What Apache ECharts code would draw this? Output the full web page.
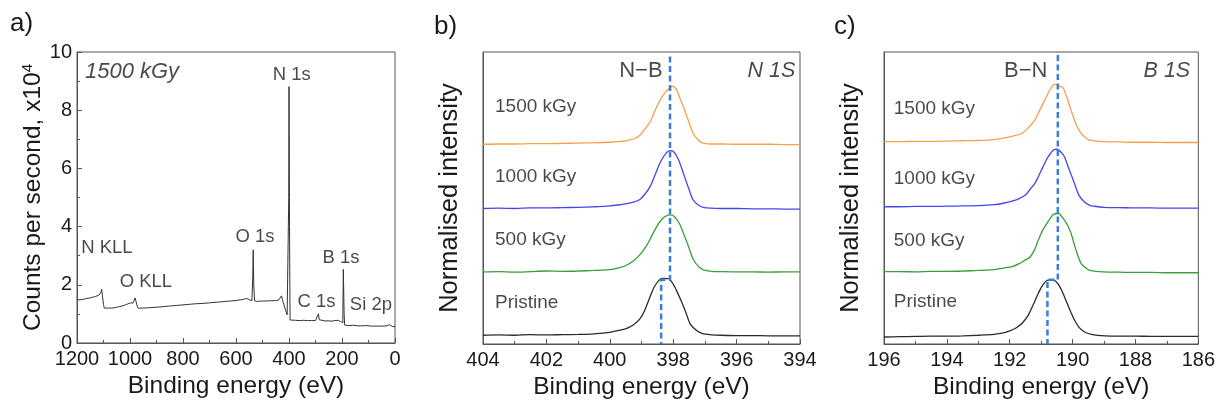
<!DOCTYPE html>
<html>
<head>
<meta charset="utf-8">
<script src="https://cdn.jsdelivr.net/npm/echarts@6/dist/echarts.min.js"></script>
<style>html,body{margin:0;padding:0;background:#fff;}#c{width:1218px;height:411px;}</style>
</head>
<body>
<div id="c"></div>
<script>
// ---------- DATA ----------
// Panel a: survey spectrum [binding energy eV, counts x1e4]
const surveyData = [
 [1200,1.48],[1194,1.50],[1188,1.49],[1182,1.51],[1176,1.50],[1170,1.52],[1164,1.53],[1158,1.54],[1150,1.55],[1144,1.57],[1138,1.58],[1130,1.60],[1124,1.62],[1118,1.64],[1113,1.68],[1110,1.73],[1107,1.85],[1104,1.62],[1100,1.32],[1097,1.20],[1090,1.19],[1080,1.20],[1070,1.20],[1060,1.21],[1050,1.23],[1040,1.25],[1030,1.27],[1020,1.30],[1012,1.33],[1005,1.35],[998,1.38],[993,1.40],[989,1.37],[985,1.45],[981,1.55],[977,1.42],[973,1.27],[969,1.19],[960,1.20],[950,1.20],[930,1.21],[900,1.23],[875,1.25],[850,1.27],[825,1.29],[800,1.31],[775,1.33],[750,1.35],[725,1.36],[700,1.38],[675,1.40],[650,1.42],[625,1.44],[600,1.46],[585,1.48],[572,1.50],[560,1.53],[552,1.50],[545,1.47],[540,1.45],[537,2.20],[535,3.20],[533,2.00],[530,1.45],[522,1.43],[510,1.44],[495,1.44],[480,1.45],[465,1.45],[450,1.46],[440,1.47],[434,1.50],[428,1.62],[424,1.46],[418,1.28],[412,1.10],[407,0.97],[403,0.95],[401,5.00],[400,8.81],[398,4.00],[396,0.79],[390,0.78],[375,0.78],[360,0.77],[345,0.78],[330,0.77],[315,0.77],[300,0.77],[293,0.80],[289,1.00],[286,0.80],[280,0.76],[265,0.76],[250,0.76],[238,0.75],[228,0.77],[221,0.82],[214,0.78],[206,0.74],[200,0.72],[197,0.70],[195,2.53],[192,1.00],[190,0.62],[180,0.60],[170,0.60],[160,0.61],[157,0.64],[153,0.59],[140,0.59],[125,0.59],[110,0.60],[107,0.64],[103,0.59],[90,0.58],[75,0.58],[60,0.58],[45,0.58],[30,0.59],[24,0.61],[21,0.63],[17,0.58],[10,0.57],[0,0.56]
];

// Panel b: N 1s high-res spectra (normalised, offset) [eV, intensity]
const n1sPristine = [[404,0.30],[403.5,0.31],[403,0.30],[402.5,0.32],[402,0.31],[401.5,0.32],[401,0.33],[400.5,0.35],[400,0.40],[399.75,0.46],[399.5,0.52],[399.25,0.66],[399.05,0.86],[398.9,1.15],[398.73,1.62],[398.6,1.95],[398.45,2.18],[398.34,2.25],[398.15,2.24],[398.0,2.05],[397.89,1.82],[397.75,1.48],[397.6,1.08],[397.47,0.70],[397.3,0.50],[397.15,0.39],[397.0,0.34],[396.5,0.30],[396,0.29],[395.5,0.29],[395,0.28],[394.5,0.28],[394,0.28]];
const n1s500 = [[404,2.47],[403.5,2.48],[403,2.46],[402.5,2.48],[402,2.50],[401.5,2.49],[401,2.50],[400.5,2.52],[400,2.55],[399.75,2.60],[399.5,2.68],[399.25,2.85],[399.0,3.12],[398.85,3.35],[398.7,3.65],[398.52,4.02],[398.35,4.28],[398.2,4.40],[398.08,4.42],[397.95,4.35],[397.8,4.12],[397.68,3.80],[397.52,3.35],[397.37,2.90],[397.2,2.65],[397.05,2.54],[396.8,2.49],[396.5,2.48],[396,2.47],[395.5,2.47],[395,2.46],[394.5,2.47],[394,2.47]];
const n1s1000 = [[404,4.64],[403.5,4.65],[403,4.64],[402.5,4.66],[402,4.66],[401.5,4.67],[401,4.68],[400.5,4.70],[400,4.73],[399.75,4.76],[399.5,4.80],[399.25,4.86],[399.05,4.95],[398.9,5.12],[398.73,5.39],[398.55,5.85],[398.42,6.19],[398.25,6.50],[398.1,6.62],[398.0,6.60],[397.85,6.35],[397.68,5.85],[397.52,5.35],[397.37,4.93],[397.2,4.75],[397.05,4.68],[396.8,4.65],[396.5,4.64],[396,4.64],[395.5,4.63],[395,4.63],[394.5,4.62],[394,4.62]];
const n1s1500 = [[404,6.84],[403.5,6.85],[403,6.85],[402.5,6.86],[402,6.86],[401.5,6.87],[401,6.88],[400.5,6.89],[400,6.91],[399.75,6.93],[399.5,6.96],[399.25,7.02],[399.05,7.15],[398.9,7.35],[398.73,7.61],[398.55,8.05],[398.4,8.38],[398.25,8.62],[398.1,8.78],[398.02,8.82],[397.9,8.72],[397.8,8.45],[397.68,8.13],[397.52,7.65],[397.37,7.22],[397.2,6.98],[397.05,6.88],[396.8,6.85],[396.5,6.85],[396,6.84],[395.5,6.84],[395,6.84],[394.5,6.83],[394,6.83]];

// Panel c: B 1s high-res spectra
const b1sPristine = [[196,0.24],[195.5,0.25],[195,0.26],[194.5,0.27],[194,0.27],[193.5,0.28],[193,0.30],[192.5,0.33],[192.2,0.38],[192.0,0.45],[191.8,0.55],[191.6,0.72],[191.41,0.99],[191.25,1.35],[191.09,1.74],[190.95,2.02],[190.78,2.19],[190.57,2.17],[190.4,1.95],[190.26,1.62],[190.1,1.20],[189.94,0.82],[189.8,0.58],[189.63,0.42],[189.4,0.33],[189.1,0.29],[188.5,0.27],[188,0.27],[187.5,0.26],[187,0.26],[186.5,0.26],[186,0.26]];
const b1s500 = [[196,2.48],[195.5,2.48],[195,2.47],[194.5,2.49],[194,2.49],[193.5,2.50],[193,2.52],[192.5,2.55],[192.2,2.60],[191.9,2.66],[191.7,2.75],[191.5,2.88],[191.35,2.98],[191.2,3.25],[191.09,3.56],[190.95,3.90],[190.78,4.19],[190.6,4.45],[190.45,4.47],[190.3,4.30],[190.15,4.05],[190.05,3.79],[189.9,3.25],[189.73,2.76],[189.55,2.58],[189.42,2.51],[189,2.47],[188.5,2.46],[188,2.45],[187.5,2.45],[187,2.44],[186.5,2.44],[186,2.44]];
const b1s1000 = [[196,4.70],[195.5,4.70],[195,4.71],[194.5,4.71],[194,4.72],[193.5,4.73],[193,4.74],[192.5,4.77],[192.2,4.82],[191.9,4.90],[191.7,4.98],[191.5,5.10],[191.35,5.30],[191.2,5.50],[191.09,5.73],[190.95,6.05],[190.78,6.41],[190.6,6.65],[190.5,6.67],[190.35,6.55],[190.26,6.41],[190.1,5.95],[189.94,5.50],[189.8,5.10],[189.63,4.87],[189.45,4.75],[189.31,4.72],[189,4.68],[188.5,4.67],[188,4.66],[187.5,4.66],[187,4.65],[186.5,4.65],[186,4.65]];
const b1s1500 = [[196,6.93],[195.5,6.93],[195,6.94],[194.5,6.94],[194,6.95],[193.5,6.96],[193,6.97],[192.5,7.00],[192.2,7.05],[191.9,7.12],[191.62,7.21],[191.4,7.42],[191.2,7.67],[191.05,8.00],[190.88,8.36],[190.7,8.75],[190.55,8.89],[190.42,8.82],[190.31,8.79],[190.2,8.50],[190.05,8.01],[189.9,7.55],[189.73,7.21],[189.55,7.03],[189.42,6.97],[189,6.93],[188.5,6.92],[188,6.91],[187.5,6.91],[187,6.90],[186.5,6.90],[186,6.90]];

// peak position guides (dashed)
const guideN = [[398.1,9.85],[398.1,2.2],[398.38,2.2],[398.38,0]];
const guideB = [[190.47,9.9],[190.47,2.2],[190.8,2.2],[190.8,0]];

// tick settings
const surveyXTicks = {min:0, max:1200, interval:200};
const surveyYTicks = {min:0, max:10, interval:2};
const n1sXTicks = {min:394, max:404, interval:2};
const b1sXTicks = {min:186, max:196, interval:2};

// annotation anchors (data coordinates)
const annotA = [
 {name:'N 1s', value:[390,9.21]},
 {name:'O 1s', value:[528,3.64]},
 {name:'N KLL', value:[1087,3.26]},
 {name:'O KLL', value:[940,2.10]},
 {name:'B 1s', value:[204,2.92]},
 {name:'C 1s', value:[296,1.41]},
 {name:'Si 2p', value:[91,1.31]}
];
const doseLabelsB = [
 {name:'1500 kGy', value:[403.62,8.12]},
 {name:'1000 kGy', value:[403.62,5.72]},
 {name:'500 kGy', value:[403.62,3.56]},
 {name:'Pristine', value:[403.62,1.40]}
];
const doseLabelsC = [
 {name:'1500 kGy', value:[195.69,8.05]},
 {name:'1000 kGy', value:[195.69,5.65]},
 {name:'500 kGy', value:[195.69,3.53]},
 {name:'Pristine', value:[195.69,1.44]}
];

// ---------- CHART ----------
const FONT = 'Liberation Sans, Arial, sans-serif';
const axisCol = '#555';
const txtCol = '#1a1a1a';
const COLORS = {pristine:'#2b2b2b', d500:'#3a9e3a', d1000:'#4646ee', d1500:'#f7a04a', guide:'#3b7ddb'};
const plainNum = v => String(v);

function xAxisCfg(gi, t, showMinor) {
  return {
    gridIndex: gi, type:'value', inverse:true, min:t.min, max:t.max, interval:t.interval,
    name:'Binding energy (eV)', nameLocation:'middle', nameGap:29,
    nameTextStyle:{fontFamily:FONT, fontSize:24.5, color:txtCol},
    axisLine:{show:true, onZero:false, lineStyle:{color:axisCol, width:1}},
    axisTick:{show:true, inside:true, length:5, lineStyle:{color:axisCol}},
    minorTick:{show:showMinor, splitNumber:2, length:3, lineStyle:{color:axisCol}},
    axisLabel:{fontFamily:FONT, fontSize:20, color:txtCol, margin:6, formatter:plainNum},
    splitLine:{show:false}
  };
}
function yAxisBlank(gi) {
  return {
    gridIndex: gi, type:'value', min:0, max:10,
    name:'Normalised intensity', nameLocation:'middle', nameGap:20,
    nameTextStyle:{fontFamily:FONT, fontSize:25.5, color:txtCol},
    axisLine:{show:true, onZero:false, lineStyle:{color:axisCol}},
    axisTick:{show:false}, axisLabel:{show:false}, splitLine:{show:false}
  };
}
function lineS(xi, data, color, smooth) {
  return {type:'line', xAxisIndex:xi, yAxisIndex:xi, data:data, showSymbol:false, symbol:'none',
    smooth: smooth, lineStyle:{color:color, width:1.3}, z:3, silent:true};
}
function labelS(xi, data, pos, style) {
  return {type:'scatter', xAxisIndex:xi, yAxisIndex:xi, data:data, symbolSize:0, silent:true, z:5,
    label:Object.assign({show:true, position:pos, distance:0, formatter:'{b}', fontFamily:FONT, color:txtCol}, style)};
}
function guideS(xi, data) {
  return {type:'line', xAxisIndex:xi, yAxisIndex:xi, data:data, showSymbol:false, symbol:'none',
    lineStyle:{color:COLORS.guide, width:2.5, type:[6,3.5]}, z:6, silent:true};
}

const chart = echarts.init(document.getElementById('c'), null, {renderer:'canvas'});
chart.setOption({
  animation:false,
  backgroundColor:'#fff',
  grid:[
    {left:77, top:52, width:318, height:291, show:true, borderColor:axisCol, borderWidth:1, backgroundColor:'transparent'},
    {left:483, top:52, width:317, height:292, show:true, borderColor:axisCol, borderWidth:1, backgroundColor:'transparent'},
    {left:884, top:52, width:318, height:292, show:true, borderColor:axisCol, borderWidth:1, backgroundColor:'transparent'}
  ],
  xAxis:[ xAxisCfg(0, surveyXTicks, true), xAxisCfg(1, n1sXTicks, true), xAxisCfg(2, b1sXTicks, true) ],
  yAxis:[
    {gridIndex:0, type:'value', min:surveyYTicks.min, max:surveyYTicks.max, interval:surveyYTicks.interval,
     name:'Counts per second, x10{sup|4}', nameLocation:'middle', nameGap:30,
     nameTextStyle:{fontFamily:FONT, fontSize:24.5, color:txtCol, rich:{sup:{fontFamily:FONT, fontSize:15, color:txtCol, verticalAlign:'top', lineHeight:24}}},
     axisLine:{show:true, onZero:false, lineStyle:{color:axisCol}},
     axisTick:{show:true, inside:true, length:5, lineStyle:{color:axisCol}},
     minorTick:{show:true, splitNumber:2, length:3, lineStyle:{color:axisCol}},
     axisLabel:{fontFamily:FONT, fontSize:20, color:txtCol, margin:5, formatter:plainNum},
     splitLine:{show:false}},
    yAxisBlank(1), yAxisBlank(2)
  ],
  graphic:[
    {type:'text', left:10, top:11, style:{text:'a)', font:'26px Liberation Sans, Arial, sans-serif', fill:txtCol}},
    {type:'text', left:434, top:14, style:{text:'b)', font:'26px Liberation Sans, Arial, sans-serif', fill:txtCol}},
    {type:'text', left:834, top:14, style:{text:'c)', font:'26px Liberation Sans, Arial, sans-serif', fill:txtCol}}
  ],
  series:[
    {type:'line', xAxisIndex:0, yAxisIndex:0, data:surveyData, showSymbol:false, symbol:'none',
     lineStyle:{color:'#333', width:1}, silent:true},
    labelS(0, annotA, 'inside', {fontSize:18.5}),
    labelS(0, [{name:'1500 kGy', value:[1170,9.31]}], 'right', {fontSize:22, fontStyle:'italic'}),

    lineS(1, n1sPristine, COLORS.pristine, 0.3),
    lineS(1, n1s500, COLORS.d500, 0.3),
    lineS(1, n1s1000, COLORS.d1000, 0.3),
    lineS(1, n1s1500, COLORS.d1500, 0.3),
    guideS(1, guideN),
    labelS(1, doseLabelsB, 'right', {fontSize:19}),
    labelS(1, [{name:'N\u2212B', value:[399.02,9.35]}], 'inside', {fontSize:22}),
    labelS(1, [{name:'N 1S', value:[394.9,9.35]}], 'inside', {fontSize:21.5, fontStyle:'italic'}),

    lineS(2, b1sPristine, COLORS.pristine, 0.3),
    lineS(2, b1s500, COLORS.d500, 0.3),
    lineS(2, b1s1000, COLORS.d1000, 0.3),
    lineS(2, b1s1500, COLORS.d1500, 0.3),
    guideS(2, guideB),
    labelS(2, doseLabelsC, 'right', {fontSize:19}),
    labelS(2, [{name:'B\u2212N', value:[191.49,9.35]}], 'inside', {fontSize:22}),
    labelS(2, [{name:'B 1S', value:[187.0,9.35]}], 'inside', {fontSize:21.5, fontStyle:'italic'})
  ]
});
</script>
</body>
</html>
